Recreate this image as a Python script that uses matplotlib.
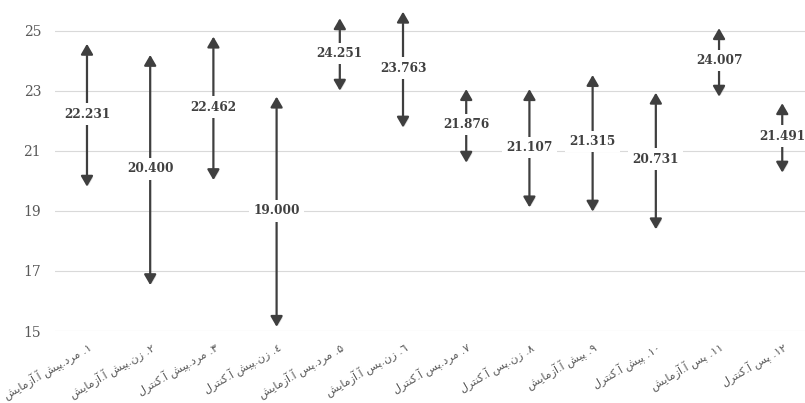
import matplotlib
matplotlib.use("Agg")
import matplotlib.pyplot as plt
import matplotlib.patheffects as pe
from matplotlib.patches import FancyArrowPatch

# Data: mean with lower / upper arrow ends
labels = [
    "۱. مرد.پیش آ.آزمایش",
    "۲. زن.پیش آ.آزمایش",
    "۳. مرد.پیش آ.کنترل",
    "٤. زن.پیش آ.کنترل",
    "۵. مرد.پس آ.آزمایش",
    "٦. زن.پس آ.آزمایش",
    "۷. مرد.پس آ.کنترل",
    "۸. زن.پس آ.کنترل",
    "۹. پیش آ.آزمایش",
    "۱۰. پیش آ.کنترل",
    "۱۱. پس آ.آزمایش",
    "۱۲. پس آ.کنترل",
]
means = [22.231, 20.400, 22.462, 19.000, 24.251, 23.763,
         21.876, 21.107, 21.315, 20.731, 24.007, 21.491]
lows = [19.81, 16.53, 20.03, 15.14, 23.01, 21.78,
        20.61, 19.12, 18.98, 18.39, 22.81, 20.28]
highs = [24.57, 24.20, 24.81, 22.81, 25.42, 25.64,
         23.06, 23.06, 23.53, 22.94, 25.09, 22.59]
yticks = [15, 17, 19, 21, 23, 25]

# --- minimal Arabic/Persian shaping (matplotlib draws glyphs without shaping) ---
FORMS = {
    "م": (0xFEE1, 0xFEE2, 0xFEE3, 0xFEE4),
    "پ": (0xFB56, 0xFB57, 0xFB58, 0xFB59),
    "ی": (0xFBFC, 0xFBFD, 0xFBFE, 0xFBFF),
    "ش": (0xFEB5, 0xFEB6, 0xFEB7, 0xFEB8),
    "ن": (0xFEE5, 0xFEE6, 0xFEE7, 0xFEE8),
    "ک": (0xFB8E, 0xFB8F, 0xFB90, 0xFB91),
    "ت": (0xFE95, 0xFE96, 0xFE97, 0xFE98),
    "ل": (0xFEDD, 0xFEDE, 0xFEDF, 0xFEE0),
    "س": (0xFEB1, 0xFEB2, 0xFEB3, 0xFEB4),
    "ر": (0xFEAD, 0xFEAE),
    "د": (0xFEA9, 0xFEAA),
    "آ": (0xFE81, 0xFE82),
    "ز": (0xFEAF, 0xFEB0),
    "ا": (0xFE8D, 0xFE8E),
}
DIGITS = set("۰۱۲۳۴۵۶۷۸۹٠١٢٣٤٥٦٧٨٩0123456789")


def shape_rtl(s):
    out = []
    for i, c in enumerate(s):
        if c not in FORMS:
            out.append(c)
            continue
        prev = s[i - 1] if i > 0 else ""
        nxt = s[i + 1] if i + 1 < len(s) else ""
        jp = prev in FORMS and len(FORMS[prev]) == 4
        jn = len(FORMS[c]) == 4 and nxt in FORMS
        f = FORMS[c]
        if jp and jn:
            out.append(chr(f[3]))
        elif jp:
            out.append(chr(f[1]))
        elif jn:
            out.append(chr(f[2]))
        else:
            out.append(chr(f[0]))
    vis = out[::-1]
    # keep digit runs left-to-right
    res, run = [], []
    for c in vis:
        if c in DIGITS:
            run.append(c)
        else:
            res.extend(run[::-1])
            run = []
            res.append(c)
    res.extend(run[::-1])
    return "".join(res)


fig = plt.figure(figsize=(8.05, 4.03), dpi=100)
ax = fig.add_axes([55 / 805, 72 / 403, 750 / 805, 331 / 403])

x = list(range(len(labels)))
for xi, m, lo, hi in zip(x, means, lows, highs):
    arr = FancyArrowPatch((xi, lo), (xi, hi),
                          arrowstyle="<|-|>,head_length=0.62,head_width=0.36",
                          mutation_scale=10, lw=1.6, color="#3f3f3f",
                          shrinkA=0, shrinkB=0, zorder=3)
    arr.set_path_effects([pe.SimplePatchShadow(offset=(1, -1), alpha=0.25,
                                               shadow_rgbFace="#808080"),
                          pe.Normal()])
    ax.add_patch(arr)
    ax.text(xi, m, f"{m:.3f}", ha="center", va="center", fontsize=8.7,
            fontweight="bold", family="DejaVu Serif", color="#404040",
            zorder=4,
            bbox=dict(boxstyle="square,pad=0.35", fc="white", ec="none"))

ax.set_xlim(-0.506, 11.36)
ax.set_ylim(15, 26.03)
ax.set_yticks(yticks)
ax.set_yticklabels([str(t) for t in yticks], family="DejaVu Serif",
                   fontsize=10, color="#595959")
ax.set_xticks(x)
ax.set_xticklabels([shape_rtl(l) for l in labels], rotation=30, ha="right",
                   va="top", rotation_mode="anchor", family="DejaVu Sans",
                   fontsize=8, color="#595959")
ax.tick_params(axis="both", length=0)
ax.tick_params(axis="y", pad=10)
ax.tick_params(axis="x", pad=7)
ax.grid(axis="y", color="#d9d9d9", lw=0.8)
ax.set_axisbelow(True)
for s in ax.spines.values():
    s.set_visible(False)

fig.savefig("out.png", dpi=100)
